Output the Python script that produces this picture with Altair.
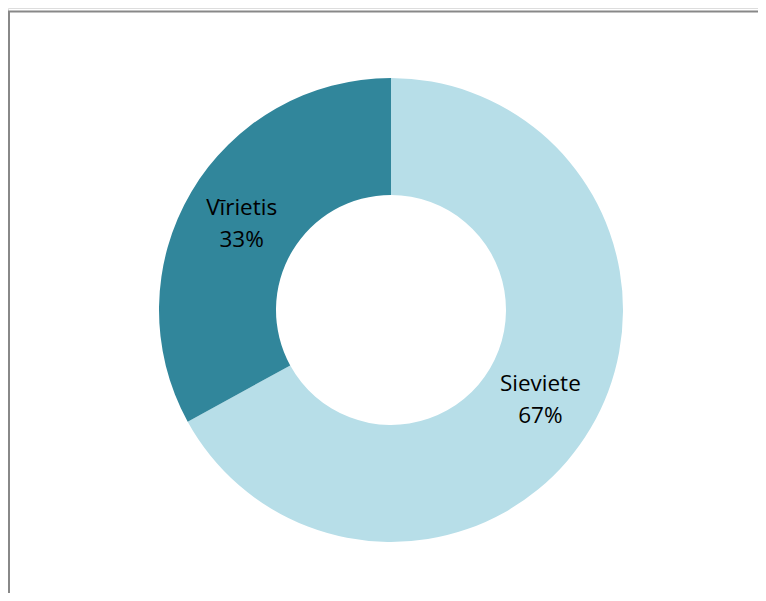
import altair as alt
import pandas as pd

categories = ["Sieviete", "Vīrietis"]
values = [67, 33]
colors = ["#B7DEE8", "#31869B"]

df = pd.DataFrame({
    "cat": categories,
    "val": values,
    "order": list(range(len(categories))),
})
df["label"] = [f"{c}\n{v}%" for c, v in zip(categories, values)]

W, H = 750, 585
CX, CY = 383, 302

base = alt.Chart(df).encode(
    theta=alt.Theta("val:Q", stack=True),
    order=alt.Order("order:Q"),
)

arcs = base.mark_arc(outerRadius=232, innerRadius=115, stroke=None).encode(
    color=alt.Color("cat:N", scale=alt.Scale(domain=categories, range=colors), legend=None),
    x=alt.value(CX),
    y=alt.value(CY),
)

texts = base.mark_text(
    radius=173.5, font="Open Sans", fontSize=22.5, lineBreak="\n", lineHeight=32,
    color="#000000", baseline="middle", align="center", dy=-14,
).encode(
    text="label:N",
    x=alt.value(CX),
    y=alt.value(CY),
)

frame_df = pd.DataFrame({"a": [0]})
top_line = alt.Chart(frame_df).mark_rule(color="#888888", strokeWidth=2).encode(
    x=alt.value(0), x2=alt.value(W), y=alt.value(3.5)
)
left_line = alt.Chart(frame_df).mark_rule(color="#888888", strokeWidth=2).encode(
    x=alt.value(1), y=alt.value(3), y2=alt.value(H)
)

chart = alt.layer(arcs, texts, top_line, left_line).properties(
    width=W, height=H, padding=0, autosize=alt.AutoSizeParams(type="none")
).configure_view(stroke=None).configure(background="white")

chart.save("out.html", embed_options={"renderer": "svg", "actions": False})
